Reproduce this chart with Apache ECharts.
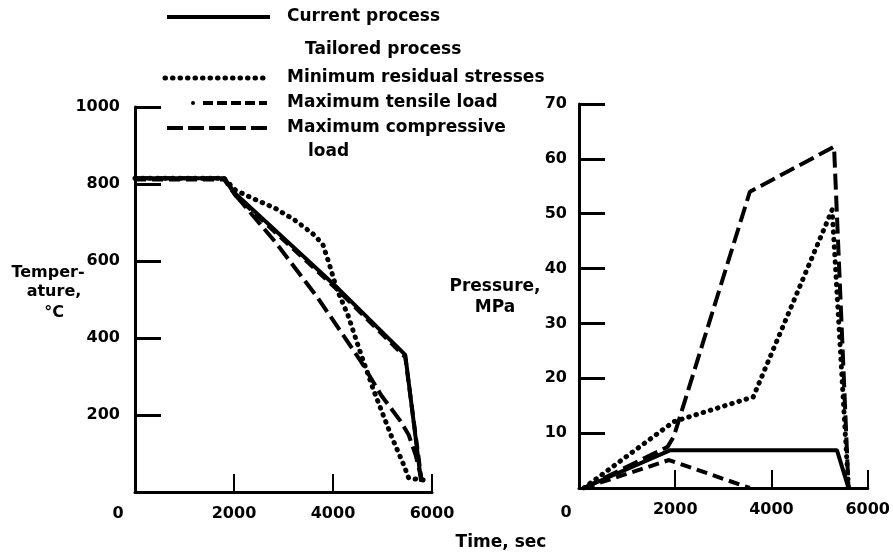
<!DOCTYPE html>
<html><head><meta charset="utf-8">
<script src="https://cdn.jsdelivr.net/npm/echarts@6/dist/echarts.min.js"></script>
<style>html,body{margin:0;padding:0;background:#fff}#c{width:893px;height:555px}</style>
</head><body><div id="c"></div>
<script>
// Temperature (°C) vs time (sec)
const tempCurrent = [[0,815],[1800,815],[2030,775],[4100,529],[5460,356],[5780,27]];
const tempMinResidual = [[0,815],[1800,815],[2030,784],[2370,763],[2830,737],[3230,706],[3630,667],[3800,641],[3930,590],[4070,529],[4300,460],[4570,356],[4830,261],[5170,148],[5430,70],[5530,36],[5830,31]];
const tempMaxTensile = [[0,812],[1800,812],[2030,770],[4100,524],[5460,350],[5790,30]];
const tempMaxCompressive = [[0,815],[1800,815],[2030,771],[2830,650],[3700,503],[4570,338],[4970,252],[5370,183],[5530,148],[5670,96],[5800,27]];
// Pressure (MPa) vs time (sec)
const presCurrent = [[100,0],[1900,6.9],[5360,6.9],[5600,0]];
const presMinResidual = [[100,0],[1970,12.1],[3620,16.6],[5260,50.7],[5600,0]];
const presMaxTensile = [[100,0],[1870,5.1],[3550,0]];
const presMaxCompressive = [[100,0],[1840,7.5],[1970,9.4],[3550,54],[5300,62.2],[5600,0]];

const timeTicks = {min:0, max:6000, interval:2000};
const tempTicks = {min:0, max:1000, interval:200};
const presTicks = {min:0, max:70, interval:10};

const legendItems = ['Current process','Tailored process','Minimum residual stresses','Maximum tensile load','Maximum compressive','load'];

const FF = '"DejaVu Sans", Arial, sans-serif';
const lbl = {color:'#000', fontFamily:FF, fontWeight:'bold', fontSize:16, formatter: v => String(v)};

function xAx(g){
  return {gridIndex:g, type:'value', min:timeTicks.min, max:timeTicks.max, interval:timeTicks.interval,
    axisLine:{lineStyle:{color:'#000', width:3}},
    axisTick:{inside:true, length:18, lineStyle:{color:'#000', width:2}},
    axisLabel:Object.assign({margin:14, showMinLabel:false}, lbl),
    splitLine:{show:false}};
}
function yAx(g, t, m){
  return {gridIndex:g, type:'value', min:t.min, max:t.max, interval:t.interval,
    axisLine:{show:true, lineStyle:{color:'#000', width:3}},
    axisTick:{show:true, inside:true, length:26, lineStyle:{color:'#000', width:3}},
    axisLabel:Object.assign({margin:m, showMinLabel:false}, lbl),
    splitLine:{show:false}};
}
const styles = {
  current:{color:'#000', width:4, type:'solid'},
  minres:{color:'#000', width:5, type:[0.5,7], cap:'round'},
  tensile:{color:'#000', width:4, type:[11,6]},
  compr:{color:'#000', width:4, type:[16,6]}
};
function ser(name, data, st, g){
  return {name, type:'line', xAxisIndex:g, yAxisIndex:g, data, symbol:'none', lineStyle:st, silent:true, z:3};
}

function txt(t, x, y, align, size){
  return {type:'text', style:{text:t, x, y, align:align||'left', verticalAlign:'middle',
    font:'bold '+(size||17)+'px '+FF, fill:'#000'}};
}
function lineG(x1,x2,y,st){
  return {type:'line', shape:{x1,y1:y,x2,y2:y}, style:{stroke:'#000', lineWidth:st.width||4, lineDash:st.type==='solid'?null:st.type, lineCap:st.cap||'butt'}};
}

const chart = echarts.init(document.getElementById('c'), null, {renderer:'canvas'});
chart.setOption({
  animation:false,
  backgroundColor:'#fff',
  grid:[{left:135, top:107, width:297, height:385},{left:579, top:104, width:292, height:384}],
  xAxis:[xAx(0), xAx(1)],
  yAxis:[yAx(0,tempTicks,15), yAx(1,presTicks,12)],
  series:[
    ser('Current process', tempCurrent, styles.current, 0),
    ser('Minimum residual stresses', tempMinResidual, styles.minres, 0),
    ser('Maximum tensile load', tempMaxTensile, styles.tensile, 0),
    ser('Maximum compressive load', tempMaxCompressive, styles.compr, 0),
    ser('Current process', presCurrent, styles.current, 1),
    ser('Minimum residual stresses', presMinResidual, styles.minres, 1),
    ser('Maximum tensile load', presMaxTensile, styles.tensile, 1),
    ser('Maximum compressive load', presMaxCompressive, styles.compr, 1)
  ],
  graphic:[
    lineG(167,270,17,styles.current),
    txt(legendItems[0], 287, 17),
    txt(legendItems[1], 305, 50),
    lineG(165,267,78,styles.minres),
    txt(legendItems[2], 287, 78),
    {type:'circle', shape:{cx:193, cy:103, r:2}, style:{fill:'#000'}},
    lineG(203,267,103,{type:[10,4]}),
    txt(legendItems[3], 287, 103),
    lineG(167,267,128,{type:[16,5]}),
    txt(legendItems[4], 287, 128),
    txt(legendItems[5], 308, 152),
    txt('0', 118, 514, 'center', 16),
    txt('0', 566, 513, 'center', 16),
    txt('Temper-', 48, 273, 'center', 16),
    txt('ature,', 54, 292, 'center', 16),
    txt('°C', 54, 313, 'center', 16),
    txt('Pressure,', 495, 287, 'center', 17),
    txt('MPa', 495, 308, 'center', 17),
    txt('Time, sec', 501, 543, 'center', 17)
  ]
});
</script></body></html>
